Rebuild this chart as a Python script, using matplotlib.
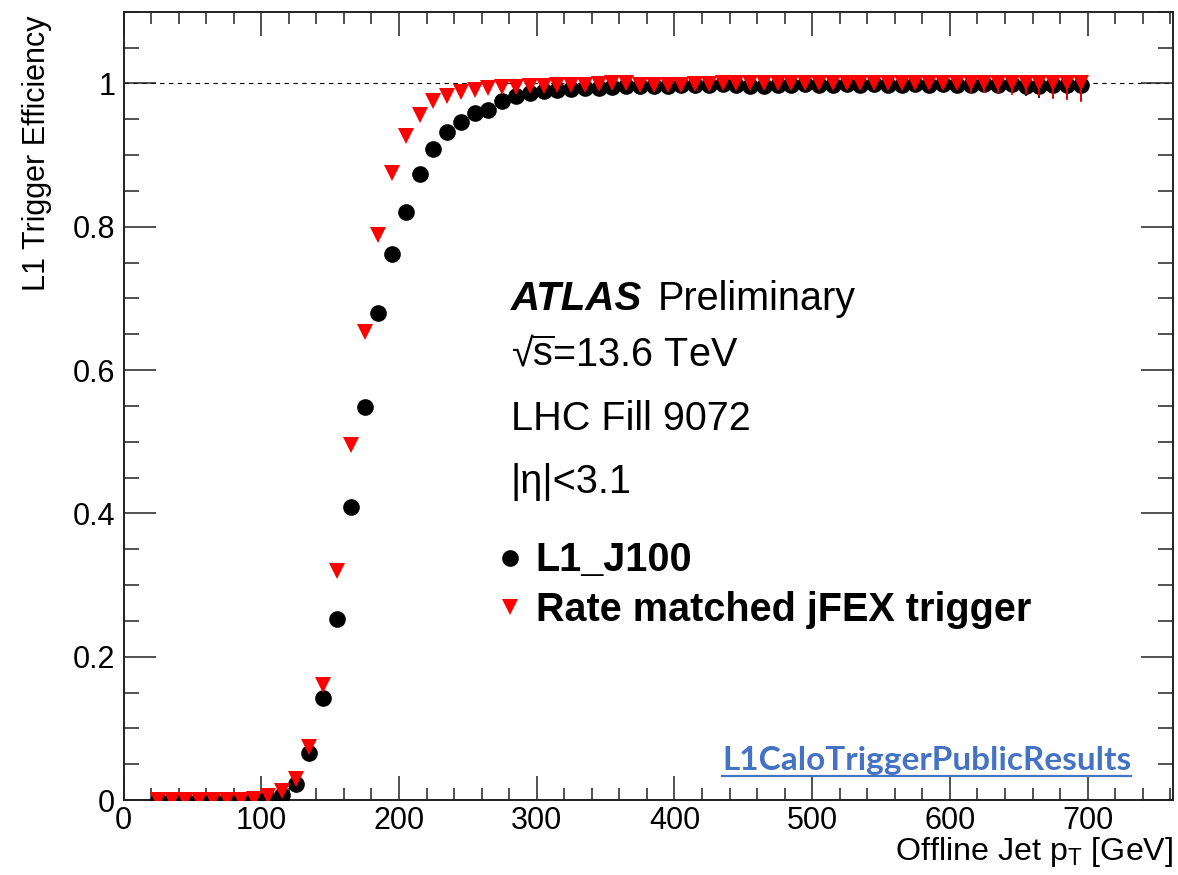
import matplotlib
matplotlib.use('Agg')
import matplotlib.pyplot as plt
from matplotlib.lines import Line2D

plt.rcParams['font.family'] = ['Liberation Sans', 'DejaVu Sans']
plt.rcParams['mathtext.fontset'] = 'custom'
plt.rcParams['mathtext.rm'] = 'Liberation Sans'
plt.rcParams['mathtext.default'] = 'regular'

# bin centres [GeV]
pt = [25, 35, 45, 55, 65, 75, 85, 95, 105, 115, 125, 135, 145, 155, 165, 175,
      185, 195, 205, 215, 225, 235, 245, 255, 265, 275, 285, 295, 305, 315, 325, 335,
      345, 355, 365, 375, 385, 395, 405, 415, 425, 435, 445, 455, 465, 475, 485, 495,
      505, 515, 525, 535, 545, 555, 565, 575, 585, 595, 605, 615, 625, 635, 645, 655,
      665, 675, 685, 695]

# L1_J100
eff_j100 = [0.000, 0.000, 0.000, 0.000, 0.000, 0.000, 0.000, 0.001, 0.003, 0.007,
            0.023, 0.065, 0.142, 0.253, 0.409, 0.549, 0.679, 0.762, 0.821, 0.874,
            0.909, 0.932, 0.946, 0.959, 0.963, 0.976, 0.982, 0.986, 0.989, 0.991,
            0.992, 0.994, 0.994, 0.995, 0.996, 0.996, 0.997, 0.997, 0.998, 0.998,
            0.998, 0.999, 0.998, 0.997, 0.996, 0.998, 0.998, 0.999, 0.998, 0.998,
            0.999, 0.998, 0.999, 0.998, 0.998, 0.999, 0.998, 0.999, 0.998, 0.998,
            0.999, 0.998, 0.999, 0.997, 0.997, 0.998, 0.998, 0.998]
err_lo_j100 = [0.0] * 53 + [0.004, 0.004, 0.005, 0.005, 0.006, 0.007, 0.010, 0.011,
                            0.011, 0.013, 0.015, 0.017, 0.019, 0.020, 0.022]
err_hi_j100 = [0.0] * 53 + [0.001] * 15

# rate matched jFEX
eff_jfex = [0.000, 0.000, 0.000, 0.000, 0.000, 0.000, 0.000, 0.002, 0.005, 0.013,
            0.030, 0.074, 0.160, 0.320, 0.495, 0.653, 0.788, 0.875, 0.927, 0.956,
            0.975, 0.983, 0.988, 0.991, 0.993, 0.995, 0.995, 0.996, 0.997, 0.998,
            0.998, 0.998, 0.999, 1.000, 1.000, 0.998, 0.998, 0.998, 0.998, 0.999,
            0.999, 1.000, 1.000, 1.000, 1.000, 1.000, 1.000, 1.000, 1.000, 1.000,
            1.000, 1.000, 1.000, 1.000, 1.000, 1.000, 1.000, 1.000, 1.000, 1.000,
            1.000, 1.000, 1.000, 1.000, 1.000, 1.000, 1.000, 1.000]
err_lo_jfex = [0.0] * 53 + [0.004, 0.005, 0.005, 0.006, 0.007, 0.008, 0.013, 0.013,
                            0.013, 0.016, 0.015, 0.018, 0.022, 0.023, 0.026]
err_hi_jfex = [0.0] * 68

labels = ['L1_J100', 'Rate matched jFEX trigger']

W, H = 1178, 875
fig = plt.figure(figsize=(W / 100, H / 100), dpi=100)
ax = fig.add_axes([123.5 / W, 75 / H, 1049.5 / W, 788.3 / H])

ax.axhline(1.0, color='black', lw=0.8, ls=(0, (4, 4)), zorder=1)

ax.errorbar(pt, eff_j100, yerr=[err_lo_j100, err_hi_j100], fmt='o', color='black',
            ms=12, mew=0, elinewidth=1.2, capsize=0, zorder=3)
ax.errorbar(pt, eff_jfex, yerr=[err_lo_jfex, err_hi_jfex], fmt='v', color='red',
            ms=11, mew=0, elinewidth=1.2, capsize=0, zorder=4)

ax.set_xlim(0, 762)
ax.set_ylim(0, 1.1)
ax.set_xticks([0, 100, 200, 300, 400, 500, 600, 700])
ax.set_xticks(range(0, 761, 20), minor=True)
ax.set_yticks([0, 0.2, 0.4, 0.6, 0.8, 1.0])
ax.set_yticklabels(['0', '0.2', '0.4', '0.6', '0.8', '1'])
ax.set_yticks([i * 0.05 for i in range(23)], minor=True)

for sp in ax.spines.values():
    sp.set_linewidth(1.4)
    sp.set_color('#222222')
ax.tick_params(axis='both', which='both', direction='in', top=True, right=True,
               width=1.1, color='#222222', labelsize=22)
ax.tick_params(axis='x', which='major', length=17, pad=4.5)
ax.tick_params(axis='x', which='minor', length=8.6)
ax.tick_params(axis='y', which='major', length=23, pad=6)
ax.tick_params(axis='y', which='minor', length=10.8)

ax.set_ylabel('L1 Trigger Efficiency', fontsize=22, loc='top')
ax.yaxis.set_label_coords(-0.068, 0.995)
ax.set_xlabel('Offline Jet p$_{T}$ [GeV]', fontsize=23.2, loc='right')
ax.xaxis.set_label_coords(1.0, -0.045)

# labels
x0 = 0.369
ax.text(x0, 0.621, 'ATLAS', transform=ax.transAxes, fontsize=29,
        fontweight='bold', fontstyle='italic', va='baseline')
ax.text(0.5095, 0.621, 'Preliminary', transform=ax.transAxes, fontsize=28.5,
        va='baseline')
ax.text(x0, 0.551, '√$\\overline{s}$=13.6 TeV', transform=ax.transAxes, fontsize=28.5,
        va='baseline')
ax.text(x0, 0.469, 'LHC Fill 9072', transform=ax.transAxes, fontsize=28.5,
        va='baseline')
ax.text(x0, 0.390, '|η|<3.1', transform=ax.transAxes, fontsize=28.5, va='baseline')

handles = [Line2D([], [], ls='', marker='o', color='black', ms=12, mew=0),
           Line2D([], [], ls='', marker='v', color='red', ms=11, mew=0)]
ax.legend(handles, labels, loc='upper left', bbox_to_anchor=(0.357, 0.328),
          frameon=False, prop={'size': 28.5, 'weight': 'bold'}, handlelength=0.6,
          handletextpad=0.35, borderpad=0, borderaxespad=0, labelspacing=0.3)

# watermark link
wm = fig.text(722 / W, 1 - 770 / H, 'L1CaloTriggerPublicResults', color='#4472C4',
              fontsize=24, fontweight='bold', family=['Lato', 'DejaVu Sans'],
              va='baseline', ha='left')
fig.canvas.draw()
bb = wm.get_window_extent()
fig.add_artist(Line2D([bb.x0 / W, bb.x1 / W], [(H - 776) / H, (H - 776) / H],
                      transform=fig.transFigure, color='#4472C4', lw=1.6))

fig.savefig('out.png', dpi=100)
